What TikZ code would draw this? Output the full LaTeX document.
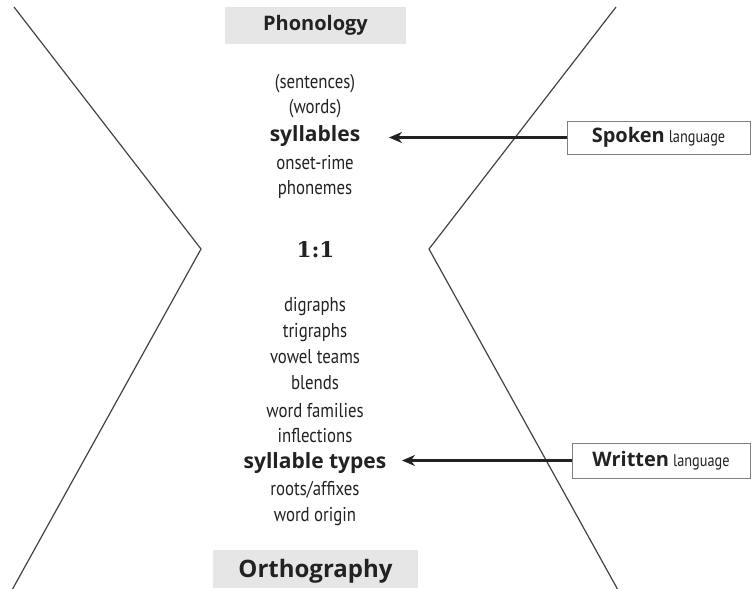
\documentclass[tikz,border=0pt]{standalone}
\usepackage{fontspec}
\setmainfont[FakeStretch=0.84]{PT Sans}
\newfontfamily\boldfont{Open Sans}
\newfontfamily\ratiofont{DejaVu Serif}
\usetikzlibrary{arrows.meta}
\definecolor{ink}{HTML}{222222}
\definecolor{boxgray}{HTML}{E6E6E6}
\tikzset{
  small/.style={font=\fontsize{20}{22}\selectfont, text=ink, inner sep=0pt, anchor=base},
  strong/.style={font=\boldfont\fontsize{21}{23}\selectfont\bfseries, text=ink, inner sep=0pt, anchor=base},
  headbox/.style={fill=boxgray, inner sep=0pt},
  headtext/.style={font=\boldfont\bfseries, text=ink, inner sep=0pt, anchor=base},
  labelbox/.style={draw=gray, line width=0.8pt, fill=white, inner sep=0pt, text=ink},
  hour/.style={draw=ink!85, line width=1.2pt},
  pointer/.style={draw=ink, line width=2.6pt, -{Stealth[length=13pt,width=11pt]}}
}
\begin{document}
\begin{tikzpicture}[x=1pt,y=-1pt]
\useasboundingbox (0,0) rectangle (751,588);
% hourglass lines
\coordinate (lt) at (14,7);
\coordinate (lv) at (201,249);
\coordinate (lb) at (12,590);
\coordinate (rt) at (616,7);
\coordinate (rv) at (429,249);
\coordinate (rb) at (618,590);
\draw[hour] (lt) -- (lv) -- (lb);
\draw[hour] (rt) -- (rv) -- (rb);
% heads
\node[headbox, minimum width=181pt, minimum height=37pt] (phonbox) at (315.5,25.5) {};
\node[headtext, font=\boldfont\fontsize{20}{22}\selectfont\bfseries] (phon) at (315.5,31) {Phonology};
\node[headbox, minimum width=205pt, minimum height=38pt] (orthbox) at (315.5,569) {};
\node[headtext, font=\boldfont\fontsize{24}{26}\selectfont\bfseries] (orth) at (315.5,577) {Orthography};
% upper list
\node[small] (sent) at (315,89) {(sentences)};
\node[small] (words) at (315,114) {(words)};
\node[strong] (syl) at (315,142) {syllables};
\node[small] (onset) at (315,169) {onset-rime};
\node[small] (phon2) at (315,194) {phonemes};
\node[font=\ratiofont\fontsize{21.5}{24}\selectfont\bfseries, text=ink, inner sep=0pt, anchor=base] (ratio) at (315.5,257) {1:1};
% lower list
\node[small] (dig) at (315,311) {digraphs};
\node[small] (trig) at (315,337) {trigraphs};
\node[small] (vow) at (315,363) {vowel teams};
\node[small] (blend) at (315,389) {blends};
\node[small] (fam) at (315,417) {word families};
\node[small] (infl) at (315,442) {inflections};
\node[strong] (sylt) at (315,468) {syllable types};
\node[small] (roots) at (315,495) {roots/affixes};
\node[small] (orig) at (315,521) {word origin};
% label boxes
\node[labelbox, minimum width=183pt, minimum height=33pt] (spoken) at (658.5,137.5)
  {{\boldfont\fontsize{20}{22}\selectfont\bfseries Spoken}\hspace{4pt}{\fontsize{17}{19}\selectfont language}};
\node[labelbox, minimum width=178pt, minimum height=35pt] (written) at (661,460.5)
  {{\boldfont\fontsize{20}{22}\selectfont\bfseries Written}\hspace{4pt}{\fontsize{17}{19}\selectfont language}};
% arrows
\coordinate (sptip) at (389,137.5);
\coordinate (wrtip) at (402,460.5);
\draw[pointer] (spoken.west) -- (sptip);
\draw[pointer] (written.west) -- (wrtip);
\end{tikzpicture}
\end{document}
